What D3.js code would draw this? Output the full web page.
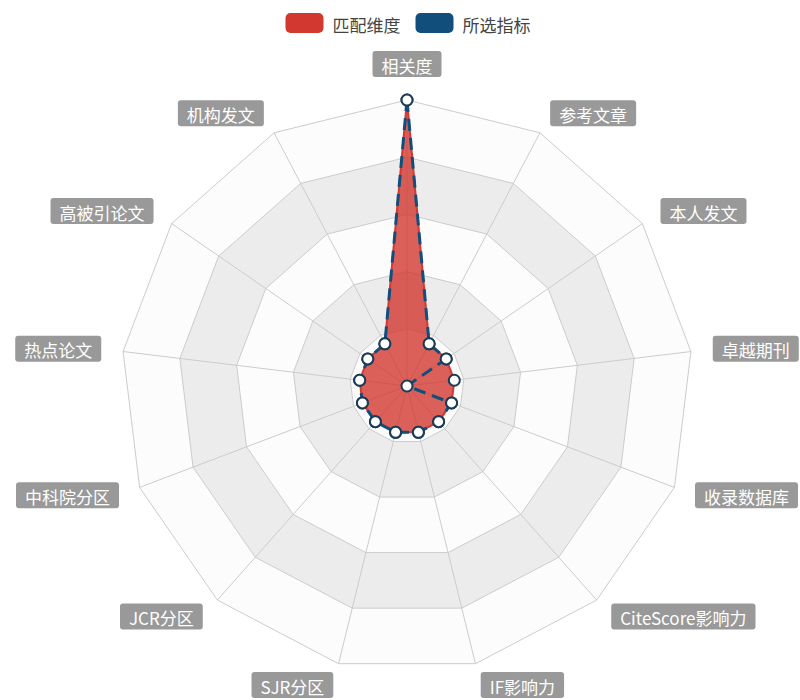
<!DOCTYPE html>
<html>
<head>
<meta charset="utf-8">
<script src="https://cdn.jsdelivr.net/npm/d3@7"></script>
<style>
  html, body { margin: 0; padding: 0; background: #ffffff; }
  svg { display: block; font-family: "Noto Sans CJK SC", "Noto Sans", sans-serif; }
</style>
</head>
<body>
<svg id="chart" width="800" height="700"></svg>
<script>
// Radar indicators, clockwise from the top
const indicators = ["相关度", "参考文章", "本人发文", "卓越期刊", "收录数据库", "CiteScore影响力", "IF影响力",
                    "SJR分区", "JCR分区", "中科院分区", "热点论文", "高被引论文", "机构发文"];
const indicatorMax = 6;

// Series values, one per indicator
const matchValues    = [6, 1, 1, 1, 1, 1, 1, 1, 1, 1, 1, 1, 1];
const selectedValues = [6, 1, 1, 0, 1, 1, 1, 1, 1, 1, 1, 1, 1];

const seriesNames  = ["匹配维度", "所选指标"];
const seriesColors = ["#d2382f", "#124e7c"];

const cx = 407, cy = 386, R = 286;
const splitCount = 5;
const nameGap = 22;

const svg = d3.select("#chart");
const n = indicators.length;
const angle = d3.scaleLinear().domain([0, n]).range([0, 2 * Math.PI]);
const r = d3.scaleLinear().domain([0, indicatorMax]).range([0, R]);

const pt = (i, rad) => [cx + rad * Math.sin(angle(i)), cy - rad * Math.cos(angle(i))];

const g = svg.append("g");

// Alternating split areas (outermost first so inner ones paint over)
const ringPts = k => d3.range(n).map(i => pt(i, R * k / splitCount));
for (let k = splitCount; k >= 1; k--) {
  g.append("polygon")
    .attr("points", ringPts(k).map(p => p.join(",")).join(" "))
    .attr("fill", (k % 2 === 1) ? "#fcfcfc" : "#ececec")
    .attr("stroke", "none");
}
// Split lines
for (let k = 1; k <= splitCount; k++) {
  g.append("polygon")
    .attr("points", ringPts(k).map(p => p.join(",")).join(" "))
    .attr("fill", "none")
    .attr("stroke", "#cccccc")
    .attr("stroke-width", 1);
}
// Axis lines
indicators.forEach((d, i) => {
  const p = pt(i, R);
  g.append("line")
    .attr("x1", cx).attr("y1", cy).attr("x2", p[0]).attr("y2", p[1])
    .attr("stroke", "#cccccc").attr("stroke-width", 1);
});

// Indicator names in grey rounded boxes
const labelG = svg.append("g");
indicators.forEach((name, i) => {
  const a = angle(i);
  const [x, y] = pt(i, R + nameGap);
  const s = Math.sin(a);
  const vertical = Math.abs(s) < 1e-6;
  const anchor = vertical ? "middle" : (s > 0 ? "start" : "end");
  const padX = 9, fs = 17, bh = 26;
  const t = labelG.append("text")
    .attr("font-size", fs)
    .attr("fill", "#ffffff")
    .attr("text-anchor", "start")
    .attr("dominant-baseline", "central")
    .text(name);
  const bb = t.node().getBBox();
  const bw = bb.width + padX * 2;
  let bx, by;
  if (anchor === "start") bx = x;
  else if (anchor === "end") bx = x - bw;
  else bx = x - bw / 2;
  if (vertical) by = (Math.cos(a) > 0) ? y - bh - 1 : y;
  else by = y - bh / 2;
  labelG.insert("rect", () => t.node())
    .attr("x", bx).attr("y", by).attr("width", bw).attr("height", bh)
    .attr("rx", 3).attr("fill", "#999999");
  t.attr("x", bx + padX).attr("y", by + bh / 2 + 1);
});

// Series
const radial = d3.lineRadial()
  .angle((d, i) => angle(i))
  .radius(d => r(d))
  .curve(d3.curveLinearClosed);

const sg = svg.append("g").attr("transform", `translate(${cx},${cy})`);

// 匹配维度: filled area
sg.append("path")
  .datum(matchValues)
  .attr("d", radial)
  .attr("fill", seriesColors[0])
  .attr("fill-opacity", 0.8)
  .attr("stroke", seriesColors[0])
  .attr("stroke-width", 2);

// 所选指标: dashed outline
sg.append("path")
  .datum(selectedValues)
  .attr("d", radial)
  .attr("fill", "none")
  .attr("stroke", seriesColors[1])
  .attr("stroke-width", 3)
  .attr("stroke-dasharray", "12,7");

// Point symbols
[matchValues, selectedValues].forEach(vals => {
  sg.selectAll(null)
    .data(vals)
    .enter().append("circle")
    .attr("cx", (d, i) => r(d) * Math.sin(angle(i)))
    .attr("cy", (d, i) => -r(d) * Math.cos(angle(i)))
    .attr("r", 5.5)
    .attr("fill", "#ffffff")
    .attr("stroke", "#1b3a55")
    .attr("stroke-width", 2);
});

// Legend
const legend = svg.append("g");
const iconW = 38, iconH = 20, textGap = 9, itemGap = 15, lfs = 17;
let lx = 0;
seriesNames.forEach((name, i) => {
  const gi = legend.append("g");
  gi.append("rect").attr("x", 0).attr("y", -iconH / 2).attr("width", iconW).attr("height", iconH)
    .attr("rx", 5).attr("fill", seriesColors[i]);
  const t = gi.append("text").attr("x", iconW + textGap).attr("y", 1)
    .attr("font-size", lfs).attr("fill", "#444444")
    .attr("dominant-baseline", "central").text(name);
  const w = iconW + textGap + t.node().getBBox().width;
  gi.attr("transform", `translate(${lx},0)`);
  lx += w + itemGap;
});
const totalW = lx - itemGap;
legend.attr("transform", `translate(${cx + 1 - totalW / 2},23)`);
</script>
</body>
</html>
